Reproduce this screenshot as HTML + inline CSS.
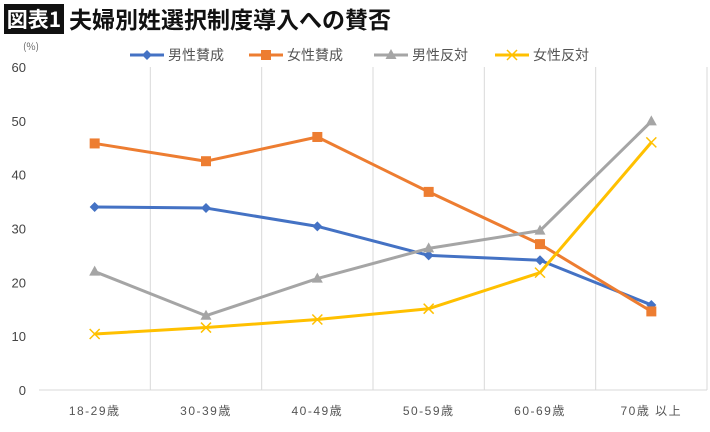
<!DOCTYPE html>
<html><head><meta charset="utf-8"><style>
body{margin:0;background:#fff;width:710px;height:427px;overflow:hidden;font-family:"Liberation Sans","Noto Sans CJK JP",sans-serif}
</style></head><body>
<svg width="710" height="427" xmlns="http://www.w3.org/2000/svg">
<rect x="4" y="4" width="60" height="30" fill="#111"/>
<text x="34" y="27" text-anchor="middle" fill="#fff" font-size="21" font-weight="bold" font-family="Noto Sans CJK JP,sans-serif">図表1</text>
<text x="69" y="28" fill="#111" font-size="23" font-weight="bold" font-family="Noto Sans CJK JP,sans-serif">夫婦別姓選択制度導入への賛否</text>
<text x="23" y="50" fill="#666" font-size="10" font-family="Noto Sans CJK JP,sans-serif">(%)</text>
<g id="grid"></g><g id="lines"></g><g id="legend"></g>
</svg>
<script>
const categories=["18-29歳","30-39歳","40-49歳","50-59歳","60-69歳","70歳 以上"];
const maleFor=[34.0,33.8,30.4,25.0,24.1,15.8];
const femaleFor=[45.8,42.5,47.0,36.8,27.1,14.6];
const maleAgainst=[22.0,13.8,20.7,26.3,29.6,49.9];
const femaleAgainst=[10.4,11.6,13.1,15.1,21.8,46.0];
const yTicks=[0,10,20,30,40,50,60];
const seriesNames=["男性賛成","女性賛成","男性反対","女性反対"];
const NS="http://www.w3.org/2000/svg";
const L=39,R=707,T=67,B=390;
const bw=(R-L)/categories.length;
const x=i=>L+bw*(i+0.5);
const y=v=>B-(v/60)*(B-T);
function mk(tag,attrs,parent){const e=document.createElementNS(NS,tag);for(const k in attrs)e.setAttribute(k,attrs[k]);parent.appendChild(e);return e;}
const grid=document.getElementById('grid');
yTicks.forEach(t=>{
 const tx=mk('text',{x:26,y:y(t)+5,'text-anchor':'end','font-size':13,fill:'#444'},grid);
 tx.textContent=t;
 
 
});
for(let i=1;i<=categories.length;i++){
 const g=mk('line',{x1:L+bw*i,x2:L+bw*i,y1:T,y2:B,stroke:'#d9d9d9','stroke-width':1},grid);
 
 
}
const ax=mk('line',{x1:L,x2:R,y1:B,y2:B,stroke:'#d9d9d9','stroke-width':1},grid);


categories.forEach((c,i)=>{
 const tx=mk('text',{x:x(i),y:415,'text-anchor':'middle','font-size':12,fill:'#555','letter-spacing':'1.5','font-family':'Liberation Sans,Noto Sans CJK JP,sans-serif'},grid);
 tx.textContent=c;
 
 
});
const colors=["#4472c4","#ed7d31","#a5a5a5","#ffc000"];
const data=[maleFor,femaleFor,maleAgainst,femaleAgainst];
function marker(k,cx,cy,p){
 let m;
 if(k===0)m=mk('polygon',{points:`${cx},${cy-5} ${cx+5},${cy} ${cx},${cy+5} ${cx-5},${cy}`,fill:colors[0]},p);
 else if(k===1)m=mk('rect',{x:cx-5,y:cy-5,width:10,height:10,fill:colors[1]},p);
 else if(k===2)m=mk('polygon',{points:`${cx},${cy-6} ${cx+5.5},${cy+4} ${cx-5.5},${cy+4}`,fill:colors[2]},p);
 else m=mk('path',{d:`M${cx-5},${cy-5}L${cx+5},${cy+5}M${cx+5},${cy-5}L${cx-5},${cy+5}`,stroke:colors[3],'stroke-width':1.5},p);
 return m;
}
const lines=document.getElementById('lines');
data.forEach((s,k)=>{
 const pl=mk('polyline',{points:s.map((v,i)=>x(i)+','+y(v)).join(' '),fill:'none',stroke:colors[k],'stroke-width':3,'stroke-linejoin':'round'},lines);
 
 
 s.forEach((v,i)=>{
  const m=marker(k,x(i),y(v),lines);
  
  
 });
});
const lg=document.getElementById('legend');
const lx=[130,249,374,495];
seriesNames.forEach((n,k)=>{
 const g=mk('g',{},lg);
 
 
 mk('line',{x1:lx[k],x2:lx[k]+34,y1:55,y2:55,stroke:colors[k],'stroke-width':3},g);
 marker(k,lx[k]+17,55,g);
 const t=mk('text',{x:lx[k]+38,y:60,'font-size':14,fill:'#555','font-family':'Noto Sans CJK JP,sans-serif'},g);
 t.textContent=n;
});
</script>
</body></html>
